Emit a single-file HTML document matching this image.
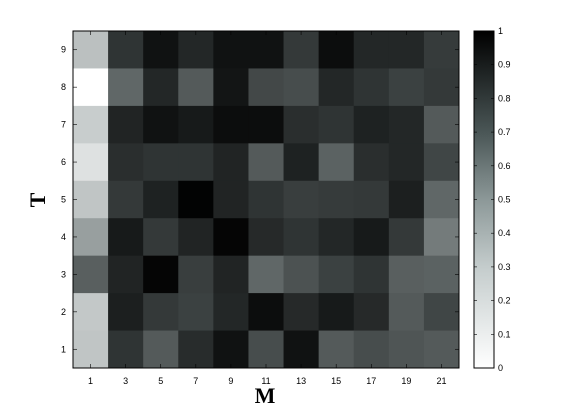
<!DOCTYPE html>
<html><head><meta charset="utf-8"><style>
body{margin:0;background:#fff;}
svg{display:block;font-family:"Liberation Sans",sans-serif;}
</style></head><body>
<svg id="chart" width="565" height="414">
<defs><linearGradient id="cb" x1="0" y1="1" x2="0" y2="0">
<stop offset="0" stop-color="#ffffff"/><stop offset="0.3" stop-color="#c4cccc"/><stop offset="0.5" stop-color="#8c9898"/><stop offset="0.7" stop-color="#4a5656"/><stop offset="1" stop-color="#000000"/>
</linearGradient></defs>
<g id="cells"></g>
<rect x="73" y="31" width="386" height="337" fill="none" stroke="#000" stroke-width="1"/>
<g id="axes"></g>
<text x="265" y="403" font-family="Liberation Serif,serif" font-weight="bold" font-size="22" text-anchor="middle">M</text>
<text transform="translate(45,200) rotate(-90)" font-family="Liberation Serif,serif" font-weight="bold" font-size="22" text-anchor="middle">T</text>
<rect x="474" y="31" width="20" height="337" fill="url(#cb)" stroke="#000"/>
<g id="cbaxis"></g>
</svg>
<script>
const xCats=[1,3,5,7,9,11,13,15,17,19,21];
const yCats=[1,2,3,4,5,6,7,8,9];
const rowsTopDown=[
[0.25,0.8,0.93,0.85,0.93,0.93,0.78,0.95,0.85,0.85,0.77],
[0,0.6,0.85,0.65,0.92,0.72,0.7,0.85,0.8,0.75,0.78],
[0.2,0.86,0.93,0.9,0.95,0.95,0.82,0.8,0.87,0.85,0.65],
[0.12,0.82,0.8,0.8,0.86,0.65,0.87,0.62,0.82,0.85,0.73],
[0.23,0.78,0.87,0.99,0.86,0.8,0.76,0.77,0.78,0.88,0.6],
[0.38,0.9,0.78,0.86,0.98,0.84,0.8,0.85,0.9,0.78,0.52],
[0.63,0.86,0.98,0.76,0.86,0.6,0.68,0.75,0.8,0.63,0.62],
[0.22,0.88,0.78,0.75,0.85,0.95,0.84,0.9,0.84,0.65,0.73],
[0.23,0.8,0.65,0.83,0.93,0.7,0.93,0.65,0.7,0.67,0.65]
];
const cbTicks=[0,0.1,0.2,0.3,0.4,0.5,0.6,0.7,0.8,0.9,1];
const NS="http://www.w3.org/2000/svg";
const L=73,R=459,T=31,B=368;
const cw=(R-L)/xCats.length, ch=(B-T)/yCats.length;
function xPos(i){return L+i*cw;}
function yPos(v){return B-(v-0.5)*ch;}
function cbY(v){return 368-v*337;}
function color(v){const l=255*(1-v);const t=40*v*(1-v);return `rgb(${Math.round(Math.max(0,l-t*0.6))},${Math.round(Math.min(255,l+t*0.1))},${Math.round(Math.min(255,l+t*0.1))})`;}
function mk(tag,a,p){const e=document.createElementNS(NS,tag);for(const k in a)e.setAttribute(k,a[k]);p.appendChild(e);return e;}
const cells=document.getElementById('cells');
rowsTopDown.forEach((row,ri)=>{const yv=yCats[yCats.length-1-ri];row.forEach((v,ci)=>{
const r=mk('rect',{x:xPos(ci),y:yPos(yv)-ch/2,width:cw+0.5,height:ch+0.5,fill:color(v)},cells);


});});
const ax=document.getElementById('axes');
xCats.forEach((c,i)=>{const x=xPos(i)+cw/2;
mk('line',{x1:x,y1:B,x2:x,y2:B-4,stroke:'#000','stroke-width':0.6},ax);
mk('line',{x1:x,y1:T,x2:x,y2:T+4,stroke:'#000','stroke-width':0.6},ax);
const t=mk('text',{x:x,y:384,'font-size':9,'text-anchor':'middle'},ax);t.textContent=c;

});
yCats.forEach(c=>{const y=yPos(c);
mk('line',{x1:L,y1:y,x2:L+4,y2:y,stroke:'#000','stroke-width':0.6},ax);
mk('line',{x1:R,y1:y,x2:R-4,y2:y,stroke:'#000','stroke-width':0.6},ax);
const t=mk('text',{x:66,y:y+3,'font-size':9,'text-anchor':'end'},ax);t.textContent=c;

});
const cba=document.getElementById('cbaxis');
cbTicks.forEach(v=>{const y=cbY(v);
mk('line',{x1:474,y1:y,x2:477,y2:y,stroke:'#000','stroke-width':0.6},cba);
mk('line',{x1:494,y1:y,x2:491,y2:y,stroke:'#000','stroke-width':0.6},cba);
const t=mk('text',{x:498,y:y+3,'font-size':9},cba);t.textContent=v;

});
</script>
</body></html>
